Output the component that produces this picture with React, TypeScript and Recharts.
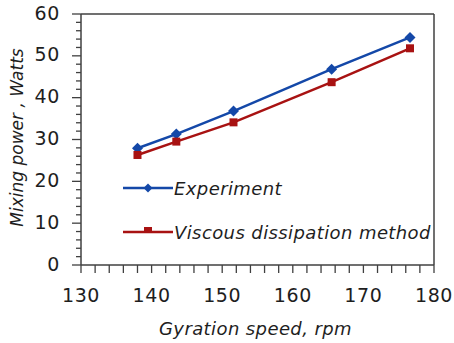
import React from "react";
import { LineChart, Line, XAxis, YAxis, ReferenceLine } from "recharts";

const speeds = [138, 143.5, 151.6, 165.5, 176.6];
const experiment = [27.9, 31.3, 36.8, 46.8, 54.4];
const viscous = [26.3, 29.5, 34.1, 43.7, 51.8];
const xTicks = [130, 132, 134, 136, 138, 140, 142, 144, 146, 148, 150, 152, 154, 156, 158, 160, 162, 164, 166, 168, 170, 172, 174, 176, 178, 180];
const yTicks = [0, 2, 4, 6, 8, 10, 12, 14, 16, 18, 20, 22, 24, 26, 28, 30, 32, 34, 36, 38, 40, 42, 44, 46, 48, 50, 52, 54, 56, 58, 60];
const seriesNames = ["Experiment", "Viscous dissipation method"];

const data = speeds.map((s, i) => ({ speed: s, exp: experiment[i], visc: viscous[i] }));

const BLUE = "#1448a8";
const RED = "#a81212";
const AXIS = "#404040";
const TEXT = "#1e1e1e";
const FONT = "DejaVu Sans, Verdana, sans-serif";

const DiamondDot = (props: any) => {
  const { cx, cy } = props;
  if (cx == null || cy == null) return null;
  const r = 5.5;
  return <polygon points={`${cx},${cy - r} ${cx + r},${cy} ${cx},${cy + r} ${cx - r},${cy}`} fill={BLUE} />;
};

const SquareDot = (props: any) => {
  const { cx, cy } = props;
  if (cx == null || cy == null) return null;
  const h = 4;
  return <rect x={cx - h} y={cy - h} width={h * 2} height={h * 2} fill={RED} />;
};

const XTick = (props: any) => {
  const { x, y, payload } = props;
  const v = payload.value;
  const major = v % 10 === 0;
  return (
    <g>
      <line x1={x} x2={x} y1={y} y2={y + 8} stroke={AXIS} strokeWidth={1.3} />
      {major && (
        <text x={x} y={y + 31} textAnchor="middle" dominantBaseline="middle" fontSize={19} fill={TEXT} fontFamily={FONT} letterSpacing={0.6}>
          {v}
        </text>
      )}
    </g>
  );
};

const YTick = (props: any) => {
  const { x, y, payload } = props;
  const v = payload.value;
  const major = v % 10 === 0;
  return (
    <g>
      <line x1={x - (major ? 9 : 5)} x2={x} y1={y} y2={y} stroke={AXIS} strokeWidth={1.3} />
      {major && (
        <text x={x - 21} y={y} textAnchor="end" dominantBaseline="middle" fontSize={19} fill={TEXT} fontFamily={FONT} letterSpacing={0.6}>
          {v}
        </text>
      )}
    </g>
  );
};

const LegendBox = () => (
  <div style={{ position: "absolute", left: 123, top: 177, fontFamily: FONT, fontStyle: "italic", fontSize: 18, letterSpacing: 0.4, color: TEXT, whiteSpace: "nowrap" }}>
    {seriesNames.map((name, i) => (
      <div key={name} style={{ display: "flex", alignItems: "center", height: 22, marginBottom: i === 0 ? 22 : 0 }}>
        <svg width={50} height={12} style={{ marginRight: 1 }}>
          <line x1={0} x2={50} y1={6} y2={6} stroke={i === 0 ? BLUE : RED} strokeWidth={2.5} />
          {i === 0 ? (
            <polygon points="25,1.5 29.5,6 25,10.5 20.5,6" fill={BLUE} />
          ) : (
            <rect x={21} y={1} width={8} height={6} fill={RED} />
          )}
        </svg>
        <span>{name}</span>
      </div>
    ))}
  </div>
);

const YLabel = (props: any) => {
  const vb = props.viewBox || { x: 0, y: 14, width: 81, height: 251 };
  const cx = vb.x + 18;
  const cy = vb.y + vb.height / 2 - 2;
  return (
    <text x={cx} y={cy} transform={`rotate(-90, ${cx}, ${cy})`} textAnchor="middle" dominantBaseline="middle" fontSize={17} fontStyle="italic" fill={TEXT} fontFamily={FONT}>
      Mixing power , Watts
    </text>
  );
};

const XLabel = (props: any) => {
  const vb = props.viewBox || { x: 81, y: 265, width: 353, height: 78 };
  const cx = vb.x + vb.width / 2 - 2;
  const cy = vb.y + 65;
  return (
    <text x={cx} y={cy} textAnchor="middle" dominantBaseline="middle" fontSize={18} letterSpacing={0.4} fontStyle="italic" fill={TEXT} fontFamily={FONT}>
      Gyration speed, rpm
    </text>
  );
};

export default function App() {
  return (
    <div style={{ position: "absolute", left: 0, top: 0, width: 454, height: 343, background: "#fff" }}>
      <LineChart width={454} height={343} data={data} margin={{ top: 14, right: 20, left: 0, bottom: 0 }}>
        <XAxis
          dataKey="speed"
          type="number"
          domain={[130, 180]}
          ticks={xTicks}
          interval={0}
          tickLine={false}
          tickSize={0}
          tickMargin={0}
          tick={<XTick />}
          axisLine={{ stroke: AXIS, strokeWidth: 1.5 }}
          height={78}
          label={<XLabel />}
        />
        <YAxis
          type="number"
          domain={[0, 60]}
          ticks={yTicks}
          interval={0}
          tickLine={false}
          tickSize={0}
          tickMargin={0}
          tick={<YTick />}
          axisLine={{ stroke: AXIS, strokeWidth: 1.5 }}
          width={81}
          label={<YLabel />}
        />
        <ReferenceLine y={60} stroke={AXIS} strokeWidth={1.5} ifOverflow="visible" />
        <ReferenceLine x={180} stroke={AXIS} strokeWidth={1.5} ifOverflow="visible" />
        <Line dataKey="exp" name={seriesNames[0]} stroke={BLUE} strokeWidth={2.5} dot={<DiamondDot />} isAnimationActive={false} />
        <Line dataKey="visc" name={seriesNames[1]} stroke={RED} strokeWidth={2.5} dot={<SquareDot />} isAnimationActive={false} />
      </LineChart>
      <LegendBox />
    </div>
  );
}
